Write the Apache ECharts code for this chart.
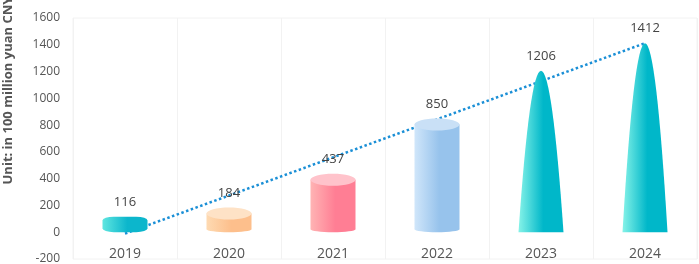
<!DOCTYPE html>
<html>
<head>
<meta charset="utf-8">
<script src="https://cdn.jsdelivr.net/npm/echarts@6/dist/echarts.min.js"></script>
<style>
  html, body { margin: 0; padding: 0; background: #fff; }
  #chart { width: 699px; height: 264px; }
</style>
</head>
<body>
<div id="chart"></div>
<script>
// data
var years = ["2019", "2020", "2021", "2022", "2023", "2024"];
var amounts = [116, 184, 437, 850, 1206, 1412];
var trendValues = [-10, 274, 559, 843, 1128, 1412];
var yTicks = { min: -200, max: 1600, step: 200 };

// shapes per year: 'flat' bar, 'cyl' cylinder, 'cone' spike
var shapes = ["flat", "cyl", "cyl", "cyl", "cone", "cone"];
var palette = [
  ["#5fe6e0", "#0cb6cc", "#0cb6cc"],
  ["#fedab2", "#fdbf8c", "#fee2c6"],
  ["#ffb4b4", "#ff7e94", "#ffc3cb"],
  ["#d0e6fa", "#97c3ec", "#c9e0f6"],
  ["#86f3e8", "#00b7c9", "#00aec3"],
  ["#86f3e8", "#00b7c9", "#00aec3"]
];
var conePath = "path://M0,100 Q50,-100 100,100 Z";
var barW = 45;

function grad(c) {
  return {
    type: "linear", x: 0, y: 0, x2: 1, y2: 0,
    colorStops: [{ offset: 0, color: c[0] }, { offset: 0.55, color: c[1] }, { offset: 1, color: c[1] }]
  };
}

var chart = echarts.init(document.getElementById("chart"));

var bodyData = [];
var cylData = [];
for (var i = 0; i < years.length; i++) {
  var s = shapes[i];
  if (s == "cyl") {
    cylData.push([i, amounts[i]]);
    // keeps the value label only, the cylinder is drawn by the custom series
    bodyData.push({ value: amounts[i], symbol: "rect", itemStyle: { color: "rgba(0,0,0,0)" } });
  } else {
    bodyData.push({
      value: amounts[i],
      symbol: s == "cone" ? conePath : "roundRect",
      itemStyle: { color: grad(palette[i]) }
    });
  }
}

function renderCylinder(params, api) {
  var idx = api.value(0);
  var top = api.coord([idx, api.value(1)]);
  var base = api.coord([idx, 0]);
  var c = palette[idx];
  var rx = barW / 2;
  var ryTop = 6, ryBot = 3;
  return {
    type: "group",
    children: [
      {
        type: "rect",
        shape: { x: top[0] - rx, y: top[1] + ryTop, width: barW, height: base[1] - ryBot - top[1] - ryTop },
        style: { fill: grad(c) }
      },
      {
        type: "ellipse",
        shape: { cx: top[0], cy: base[1] - ryBot, rx: rx, ry: ryBot },
        style: { fill: grad(c) }
      },
      {
        type: "ellipse",
        shape: { cx: top[0], cy: top[1] + ryTop, rx: rx, ry: ryTop },
        style: { fill: c[2] }
      }
    ]
  };
}

var font = "'Open Sans', 'Noto Sans', sans-serif";

chart.setOption({
  animation: false,
  textStyle: { fontFamily: font },
  grid: {
    left: 73, right: 2, top: 18, bottom: 5,
    outerBoundsMode: "none",
    containLabel: false,
    show: true, borderColor: "#f2f2f2", borderWidth: 1
  },
  xAxis: {
    type: "category",
    data: years,
    offset: -26,
    axisLine: { show: false },
    axisTick: { show: false },
    axisLabel: { color: "#555", fontSize: 14, margin: 14, fontFamily: font },
    splitLine: { show: true, lineStyle: { color: "#f2f2f2" } }
  },
  yAxis: {
    type: "value",
    min: yTicks.min,
    max: yTicks.max,
    interval: yTicks.step,
    name: "Unit: in 100 million yuan CNY",
    nameLocation: "middle",
    nameGap: 58,
    nameTextStyle: { color: "#555", fontSize: 13, fontWeight: "bold", fontFamily: font, padding: [0, 0, 0, 96] },
    axisLine: { show: false },
    axisTick: { show: false },
    axisLabel: {
      color: "#555", fontSize: 12, margin: 13, fontFamily: font,
      formatter: function (v) { return String(v); }
    },
    splitLine: { show: false }
  },
  series: [
    {
      name: "trend",
      type: "line",
      data: trendValues,
      showSymbol: false,
      z: 1,
      lineStyle: { color: "#1a8fd6", width: 2.5, type: "dotted" }
    },
    {
      name: "cylinders",
      type: "custom",
      data: cylData,
      encode: { x: 0, y: 1 },
      renderItem: renderCylinder,
      z: 3
    },
    {
      name: "body",
      type: "pictorialBar",
      data: bodyData,
      symbolSize: [barW, "100%"],
      barGap: "-100%",
      z: 4,
      label: {
        show: true,
        position: "top",
        distance: 8,
        color: "#444",
        fontSize: 13,
        fontFamily: font
      }
    }
  ]
});
</script>
</body>
</html>
